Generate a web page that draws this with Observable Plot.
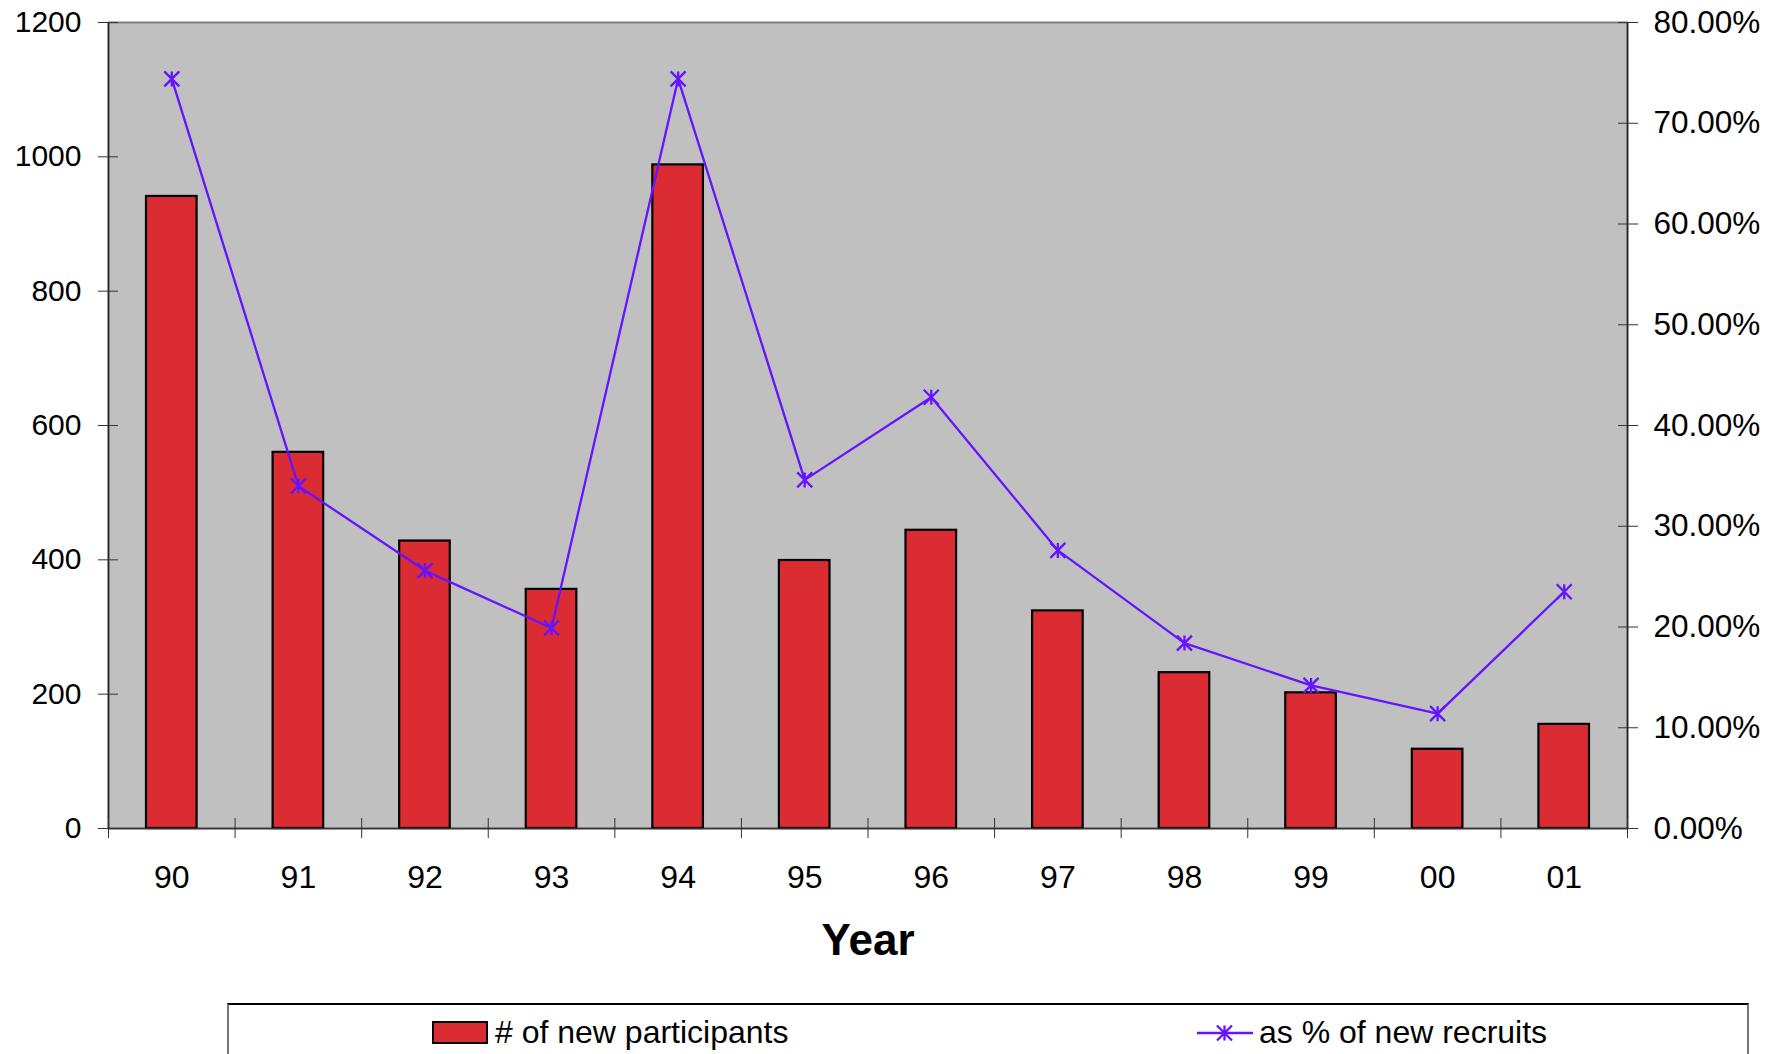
<!DOCTYPE html>
<html>
<head>
<meta charset="utf-8">
<script src="https://cdn.jsdelivr.net/npm/d3@7"></script>
<script src="https://cdn.jsdelivr.net/npm/@observablehq/plot@0.6"></script>
<style>
  html, body { margin: 0; padding: 0; background: #fff; overflow: hidden; }
  body { width: 1782px; height: 1054px; position: relative; font-family: "Liberation Sans", Arial, sans-serif; }
  #chart { position: absolute; left: 0; top: 0; }
  #legend { position: absolute; left: 227px; top: 1003px; width: 1522px; height: 80px; box-sizing: border-box;
            border-top: 2px solid #000; border-left: 2px solid #777; border-right: 2px solid #777; background: #fff; }
  .item { position: absolute; top: 9px; display: flex; align-items: center; font-size: 32px; color: #000; white-space: nowrap; }
  .item svg { margin-right: 5px; }
</style>
</head>
<body>
<div id="chart"></div>
<div id="legend"></div>
<script>
// ---- data ----
const years = ["90","91","92","93","94","95","96","97","98","99","00","01"];
const participants = [941, 560, 428, 356, 988, 399, 444, 324, 232, 202, 118, 155];
const pctRecruits = [74.4, 34.0, 25.6, 19.9, 74.4, 34.6, 42.8, 27.6, 18.4, 14.2, 11.4, 23.5];
const leftTicks = [0, 200, 400, 600, 800, 1000, 1200];
const rightTicks = [0, 10, 20, 30, 40, 50, 60, 70, 80];
const seriesNames = ["# of new participants", "as % of new recruits"];
const xTitle = "Year";

const leftMax = 1200, rightMax = 80;
const k = leftMax / rightMax; // right-axis percent -> left units
const barColor = "#dc2c33";
const lineColor = "#6414ff";

const data = years.map((y, i) => ({ i, year: y, n: participants[i], pct: pctRecruits[i] }));

const star = {
  draw(ctx, size) {
    const r = Math.sqrt(size / Math.PI);
    ctx.moveTo(-r, -r); ctx.lineTo(r, r);
    ctx.moveTo(-r, r); ctx.lineTo(r, -r);
    ctx.moveTo(0, -r); ctx.lineTo(0, r);
  }
};

const W = 1782, H = 1003;
const chart = Plot.plot({
  width: W,
  height: H,
  marginLeft: 108,
  marginRight: 155,
  marginTop: 22,
  marginBottom: H - 828,
  style: { fontFamily: "'Liberation Sans', Arial, sans-serif", fontSize: "32px", color: "#000", background: "#fff", overflow: "visible" },
  x: { type: "linear", domain: [0, years.length], axis: null },
  y: { domain: [0, leftMax], axis: null },
  marks: [
    Plot.frame({ fill: "#c0c0c0", stroke: "#808080", strokeWidth: 2 }),
    Plot.rectY(data, { x1: "i", x2: d => d.i + 1, y: "n", insetLeft: 38, insetRight: 38, fill: barColor, stroke: "#000", strokeWidth: 2.2 }),
    Plot.ruleY([0], { stroke: "#333", strokeWidth: 1.5 }),
    Plot.ruleX([0, years.length], { stroke: "#222", strokeWidth: 1.5 }),
    Plot.line(data, { x: d => d.i + 0.5, y: d => d.pct * k, stroke: lineColor, strokeWidth: 2.3 }),
    Plot.dot(data, { x: d => d.i + 0.5, y: d => d.pct * k, symbol: star, r: 7.5, stroke: lineColor, fill: "none", strokeWidth: 2.3 }),
    // left axis
    Plot.axisY({ anchor: "left", ticks: leftTicks, tickSize: 20, dx: 10, tickPadding: 17, fontSize: 30, tickFormat: d => String(d), label: null, stroke: "#333" }),
    // right axis
    Plot.axisY({ anchor: "right", ticks: rightTicks.map(t => t * k), tickSize: 20, dx: -10, tickPadding: 16, fontSize: 31.5,
                 tickFormat: d => (d / k).toFixed(2) + "%", label: null, stroke: "#333" }),
    // x boundary ticks
    Plot.axisX({ ticks: d3.range(years.length + 1), tickSize: 20, dy: -10, tickFormat: () => "", label: null, stroke: "#333" }),
    // x category labels
    Plot.axisX({ ticks: years.map((_, i) => i + 0.5), tickSize: 0, tickPadding: 37, tickFormat: d => years[Math.floor(d)], label: null }),
    Plot.text([xTitle], { frameAnchor: "bottom", dy: 112, fontSize: 44, fontWeight: "bold", lineAnchor: "middle", fill: "#000" })
  ]
});
document.getElementById("chart").appendChild(chart);

// ---- legend ----
const legend = document.getElementById("legend");
const it1 = document.createElement("div");
it1.className = "item";
it1.style.left = "203px";
it1.innerHTML = `<svg width="58" height="26"><rect x="1" y="2" width="54" height="21" fill="${barColor}" stroke="#000" stroke-width="2"/></svg><span>${seriesNames[0]}</span>`;
legend.appendChild(it1);
const it2 = document.createElement("div");
it2.className = "item";
it2.style.left = "967px";
it2.innerHTML = `<svg width="58" height="26"><line x1="1" y1="13" x2="57" y2="13" stroke="${lineColor}" stroke-width="2.3"/><path d="M21,5.5L36,20.5M21,20.5L36,5.5M28.5,5.5L28.5,20.5" stroke="${lineColor}" stroke-width="2.3" fill="none"/></svg><span>${seriesNames[1]}</span>`;
legend.appendChild(it2);
</script>
</body>
</html>
